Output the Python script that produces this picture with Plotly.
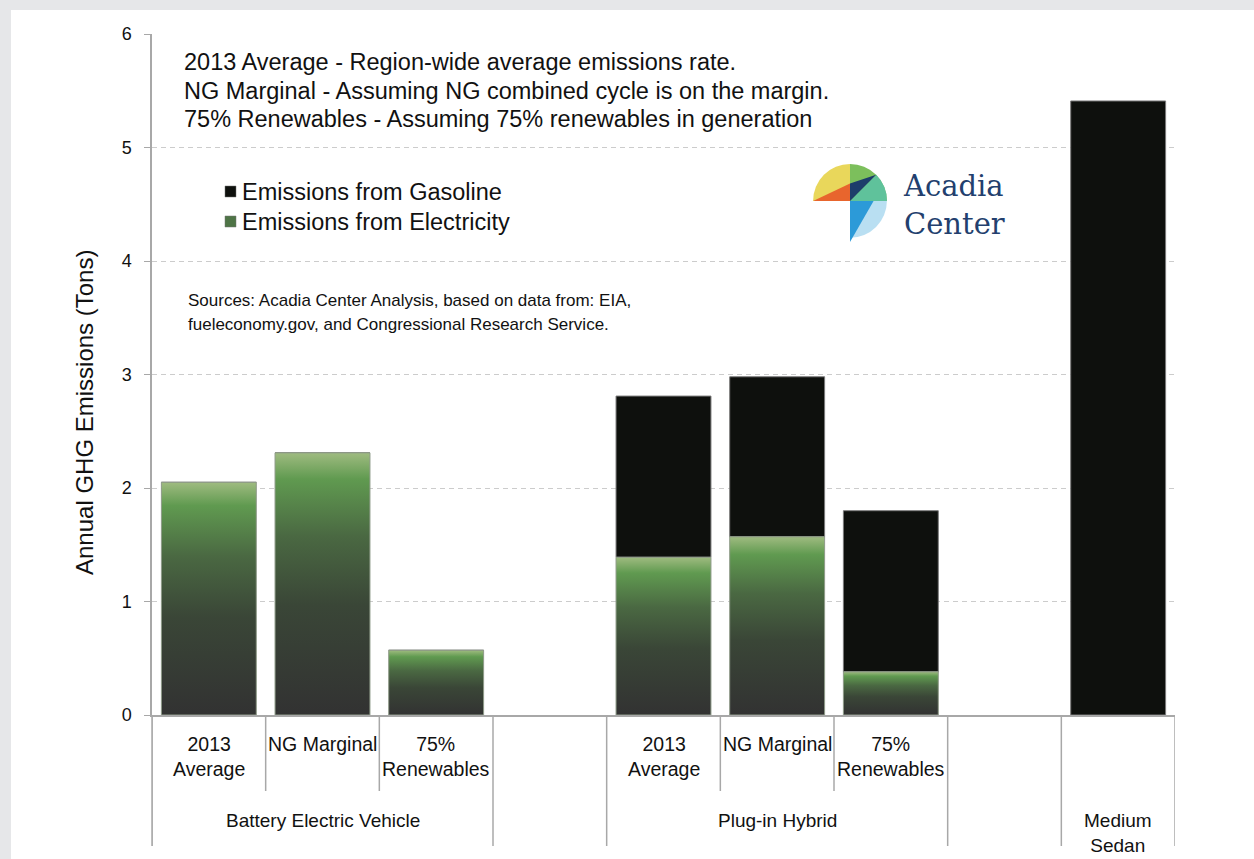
import base64
import plotly.graph_objects as go

# ---------------- data ----------------
groups = ["Battery Electric Vehicle", "", "Plug-in Hybrid", "", "Medium<br>Sedan"]
group_sizes = [3, 1, 3, 1, 1]
scenario_labels = ["2013<br>Average", "NG Marginal", "75%<br>Renewables",
                   "",
                   "2013<br>Average", "NG Marginal", "75%<br>Renewables",
                   "",
                   ""]
# bars (one per non-empty slot)
bar_names = ["BEV 2013 Average", "BEV NG Marginal", "BEV 75% Renewables",
             "PHEV 2013 Average", "PHEV NG Marginal", "PHEV 75% Renewables",
             "Medium Sedan"]
bar_slots = [0, 1, 2, 4, 5, 6, 8]
electricity = [2.05, 2.31, 0.57, 1.39, 1.57, 0.38, 0.0]
gasoline = [0.0, 0.0, 0.0, 1.42, 1.41, 1.42, 5.41]

y_ticks = [0, 1, 2, 3, 4, 5, 6]

notes = ["2013 Average - Region-wide average emissions rate.",
         "NG Marginal - Assuming NG combined cycle is on the margin.",
         "75% Renewables - Assuming 75% renewables in generation"]
legend_labels = ["Emissions from Gasoline", "Emissions from Electricity"]
sources = ["Sources: Acadia Center Analysis, based on data from: EIA,",
           "fueleconomy.gov, and Congressional Research Service."]
y_title = "Annual GHG Emissions (Tons)"
logo_text = "Acadia<br>Center"

# ---------------- geometry helpers (pixel -> paper) ----------------
W, H = 1254, 859
L, R, T, B = 152, 1175, 34, 715


def px(x):
    return (x - L) / (R - L)


def py(y):
    return (B - y) / (B - T)


FONT = "Arial, 'Liberation Sans', sans-serif"
n_slots = sum(group_sizes)
bar_w = 0.835
half = bar_w / 2

elec_scale = [[0.0, "#323232"], [0.42, "#3a4637"], [0.68, "#4a6842"],
              [0.9, "#609a50"], [1.0, "#9fbb80"]]

fig = go.Figure()

# electricity bars with vertical gradient
for name, s, v in zip(bar_names, bar_slots, electricity):
    if v <= 0:
        continue
    fig.add_trace(go.Scatter(
        x=[s - half, s + half, s + half, s - half, s - half],
        y=[0, 0, v, v, 0],
        mode="lines", fill="toself",
        line=dict(color="#8e9a88", width=1),
        fillgradient=dict(type="vertical", colorscale=elec_scale),
        name=name + " - Electricity", showlegend=False, hoverinfo="skip"))

# gasoline bars stacked on top
fig.add_trace(go.Bar(
    x=bar_slots, y=gasoline, base=electricity, width=bar_w,
    marker=dict(color="#0e100d", line=dict(color="#7a7a7a", width=1)),
    name=legend_labels[0], showlegend=False))

shapes = []
annotations = []

# white panel on grey page
shapes.append(dict(type="rect", xref="paper", yref="paper",
                   x0=px(11), x1=px(1260), y0=py(10), y1=py(870),
                   fillcolor="white", line=dict(width=0), layer="below"))

# category dividers below axis
bounds = [-0.5]
for g in group_sizes:
    bounds.append(bounds[-1] + g)
group_edges = set(bounds)
for k in range(n_slots + 1):
    xv = k - 0.5
    long = xv in group_edges
    shapes.append(dict(type="line", xref="x", yref="paper",
                       x0=xv, x1=xv, y0=0, y1=py(846 if long else 791),
                       line=dict(color="#a8a8a8", width=1.5)))

# scenario (inner) labels
for k, lab in enumerate(scenario_labels):
    if lab:
        annotations.append(dict(x=k, y=py(731), xref="x", yref="paper",
                                text=lab, showarrow=False, yanchor="top",
                                xanchor="center", align="center",
                                font=dict(family=FONT, size=19.5, color="#111")))
# group (outer) labels
for g, lo, hi in zip(groups, bounds[:-1], bounds[1:]):
    if g:
        annotations.append(dict(x=(lo + hi) / 2, y=py(808), xref="x", yref="paper",
                                text=g, showarrow=False, yanchor="top",
                                xanchor="center", align="center",
                                font=dict(family=FONT, size=19, color="#111")))

# notes
for t, yy in zip(notes, [62, 91, 119]):
    annotations.append(dict(x=px(182), y=py(yy), xref="paper", yref="paper",
                            text=t, showarrow=False, xanchor="left", yanchor="middle",
                            font=dict(family=FONT, size=23.5, color="#111")))

# custom legend
leg_colors = ["#0e100d", "#4e7446"]
for lab, c, yy in zip(legend_labels, leg_colors, [192, 222]):
    shapes.append(dict(type="rect", xref="paper", yref="paper",
                       x0=px(225), x1=px(236), y0=py(yy - 6), y1=py(yy + 5),
                       fillcolor=c, line=dict(color="#777", width=0.5)))
    annotations.append(dict(x=px(240), y=py(yy), xref="paper", yref="paper",
                            text=lab, showarrow=False, xanchor="left", yanchor="middle",
                            font=dict(family=FONT, size=23.5, color="#111")))

# sources
for t, yy in zip(sources, [300, 324]):
    annotations.append(dict(x=px(186), y=py(yy), xref="paper", yref="paper",
                            text=t, showarrow=False, xanchor="left", yanchor="middle",
                            font=dict(family=FONT, size=17, color="#111")))

# y-axis title
annotations.append(dict(x=px(84), y=py(413), xref="paper", yref="paper",
                        text=y_title, textangle=-90, showarrow=False,
                        xanchor="center", yanchor="middle",
                        font=dict(family=FONT, size=24, color="#111")))

# logo text
annotations.append(dict(x=px(901), y=py(205), xref="paper", yref="paper",
                        text=logo_text, showarrow=False, xanchor="left",
                        yanchor="middle", align="left",
                        font=dict(family="'DejaVu Serif', serif", size=29,
                                  color="#233f6e")))

# logo icon as inline SVG
svg = """<svg xmlns='http://www.w3.org/2000/svg' width='80' height='80' viewBox='0 0 80 80'>
<path d='M40,38 L4,38 A36,36 0 0 1 40,2 Z' fill='#e9d75b'/>
<path d='M40,38 L4,38 L40,21 Z' fill='#e8652d'/>
<path d='M40,38 L40,2 A36,36 0 0 1 76,38 Z' fill='#7cbf5c'/>
<path d='M40,38 L65.5,12.5 A36,36 0 0 1 76,38 Z' fill='#5fc29b'/>
<path d='M40,38 L40,21 L65.5,12.5 Z' fill='#1c3d6b'/>
<path d='M40,38 L76,38 A36,36 0 0 1 40,74 Z' fill='#b9dff2'/>
<path d='M40,38 L63,38 L40,78 Z' fill='#2c9ad8'/>
</svg>"""
src = "data:image/svg+xml;base64," + base64.b64encode(svg.encode()).decode()

fig.update_layout(
    width=W, height=H,
    margin=dict(l=L, r=W - R, t=T, b=H - B, pad=0),
    paper_bgcolor="#e6e7e9", plot_bgcolor="white",
    showlegend=False,
    shapes=shapes, annotations=annotations,
    images=[dict(source=src, xref="paper", yref="paper",
                 x=px(809), y=py(162), sizex=82 / (R - L), sizey=82 / (B - T),
                 xanchor="left", yanchor="top", sizing="stretch", layer="above")],
    xaxis=dict(range=[-0.5, n_slots - 0.5], showgrid=False, zeroline=False,
               showticklabels=False, ticks="", showline=True,
               linecolor="#a8a8a8", linewidth=1.5, fixedrange=True),
    yaxis=dict(range=[0, 6], tickvals=y_ticks, showgrid=True,
               gridcolor="#cccccc", gridwidth=1.2, griddash="5px,4px",
               zeroline=False, showline=True, linecolor="#a8a8a8", linewidth=1.5,
               ticks="outside", ticklen=6, tickcolor="#a8a8a8", tickwidth=1.2,
               ticklabelstandoff=9, automargin=False,
               tickfont=dict(family=FONT, size=18, color="#111"), fixedrange=True),
    font=dict(family=FONT),
)
# extend y axis line down through the category label area
fig.add_shape(type="line", xref="paper", yref="paper", x0=0, x1=0,
              y0=0, y1=py(846), line=dict(color="#a8a8a8", width=1.5))

fig.write_html("out.html", config={"displayModeBar": False},
               post_script="document.body.style.margin='0';"
                           "document.body.style.overflow='hidden';")
